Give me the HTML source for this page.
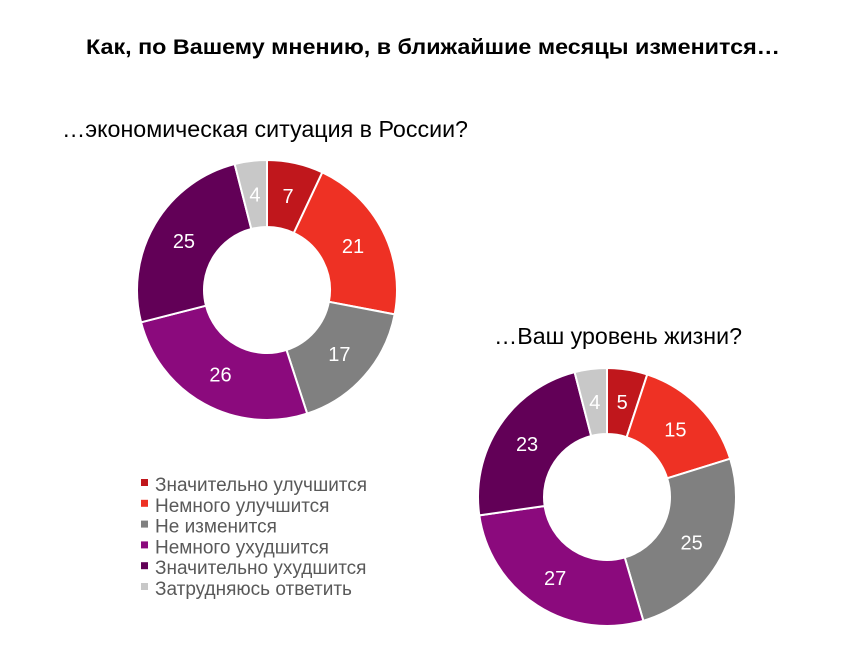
<!DOCTYPE html>
<html><head><meta charset="utf-8"><style>
body{margin:0;background:#fff;width:849px;height:660px;overflow:hidden;font-family:"Liberation Sans",sans-serif}
</style></head><body>
<svg width="849" height="660" xmlns="http://www.w3.org/2000/svg" style="font-family:'Liberation Sans',sans-serif">
<text x="433" y="54" text-anchor="middle" font-size="21" font-weight="bold" fill="#000" textLength="694" lengthAdjust="spacingAndGlyphs">Как, по Вашему мнению, в ближайшие месяцы изменится…</text>
<text x="62" y="137" font-size="23" fill="#000" textLength="406" lengthAdjust="spacingAndGlyphs">…экономическая ситуация в России?</text>
<text x="494" y="344" font-size="23" fill="#000" textLength="248" lengthAdjust="spacingAndGlyphs">…Ваш уровень жизни?</text>
<g id="d1"></g>
<g id="d2"></g>
<g id="legend"></g>
</svg>
<script>
const categories=["Значительно улучшится","Немного улучшится","Не изменится","Немного ухудшится","Значительно ухудшится","Затрудняюсь ответить"];
const economyValues=[7,21,17,26,25,4];
const livingValues=[5,15,25,27,23,4];
const colors=["#C0171C","#EE3124","#808080","#8B0A7D","#620057","#C8C8C8"];
const NS="http://www.w3.org/2000/svg";
function donut(g,vals,cx,cy,ro,ri,prefix){
  const total=vals.reduce((a,b)=>a+b,0);
  let a0=0;
  vals.forEach((v,i)=>{
    const a1=a0+v/total*2*Math.PI;
    const pt=(r,a)=>[cx+r*Math.sin(a),cy-r*Math.cos(a)];
    const [x1,y1]=pt(ro,a0),[x2,y2]=pt(ro,a1),[x3,y3]=pt(ri,a1),[x4,y4]=pt(ri,a0);
    const large=(a1-a0)>Math.PI?1:0;
    const p=document.createElementNS(NS,"path");
    p.setAttribute("d",`M${x1},${y1}A${ro},${ro} 0 ${large} 1 ${x2},${y2}L${x3},${y3}A${ri},${ri} 0 ${large} 0 ${x4},${y4}Z`);
    p.setAttribute("fill",colors[i]);p.setAttribute("stroke","#fff");p.setAttribute("stroke-width","2");
    
    
    g.appendChild(p);
    const [lx,ly]=pt((ro+ri)/2,(a0+a1)/2);
    const t=document.createElementNS(NS,"text");
    t.setAttribute("x",lx);t.setAttribute("y",ly+7);t.setAttribute("text-anchor","middle");
    t.setAttribute("font-size","20");t.setAttribute("fill","#fff");t.textContent=v;
    
    
    g.appendChild(t);
    a0=a1;
  });
}
donut(document.getElementById("d1"),economyValues,267,290,130,63,"economy");
donut(document.getElementById("d2"),livingValues,607,497,129,63,"living");
const lg=document.getElementById("legend");
categories.forEach((c,i)=>{
  const y=485+i*20.8;
  const r=document.createElementNS(NS,"rect");
  r.setAttribute("x",141);r.setAttribute("y",y-6);r.setAttribute("width",7);r.setAttribute("height",7);r.setAttribute("fill",colors[i]);
  
  
  lg.appendChild(r);
  const t=document.createElementNS(NS,"text");
  t.setAttribute("x",155);t.setAttribute("y",y+6);t.setAttribute("font-size","19");t.setAttribute("fill","#595959");t.textContent=c;
  
  
  lg.appendChild(t);
});
</script>
</body></html>
